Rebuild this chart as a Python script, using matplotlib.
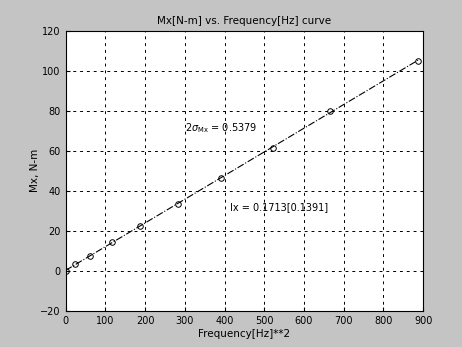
import numpy as np
import matplotlib.pyplot as plt

freq_sq = [0, 23, 61, 117, 187, 284, 391, 521, 666, 887]
mx = [0.0, 3.35, 7.35, 14.2, 22.5, 33.4, 46.5, 61.5, 80.0, 104.8]

xticks = np.arange(0, 901, 100)
yticks = np.arange(-20, 121, 20)

fig = plt.figure(figsize=(4.62, 3.47), dpi=100)
fig.patch.set_facecolor('#c4c4c4')
ax = fig.add_axes([0.142, 0.104, 0.774, 0.808])
ax.set_facecolor('white')

# linear fit through the points
p = np.polyfit(freq_sq, mx, 1)
xf = np.array([0, max(freq_sq)])
ax.plot(xf, np.polyval(p, xf), color='black', linestyle='-.', linewidth=0.8)
ax.plot(freq_sq, mx, 'o', color='black', mfc='none', markersize=4, markeredgewidth=0.7)

ax.set_xlim(0, 900)
ax.set_ylim(-20, 120)
ax.set_xticks(xticks)
ax.set_yticks(yticks)
ax.grid(True, color='black', linestyle=(0, (3, 4)), linewidth=0.7)
ax.tick_params(direction='in', labelsize=7, length=3)
for s in ax.spines.values():
    s.set_linewidth(0.8)

ax.text(301, 71.5, r'2$\sigma_{\mathrm{Mx}}$ = 0.5379', fontsize=7, va='center')
ax.text(414, 31.8, 'Ix = 0.1713[0.1391]', fontsize=7, va='center')

ax.set_title('Mx[N-m] vs. Frequency[Hz] curve', fontsize=7.5, pad=5)
ax.set_xlabel('Frequency[Hz]**2', fontsize=7.5, labelpad=2)
ax.set_ylabel('Mx, N-m', fontsize=7.5, labelpad=0)

fig.savefig('out.png', dpi=100, facecolor=fig.get_facecolor())
